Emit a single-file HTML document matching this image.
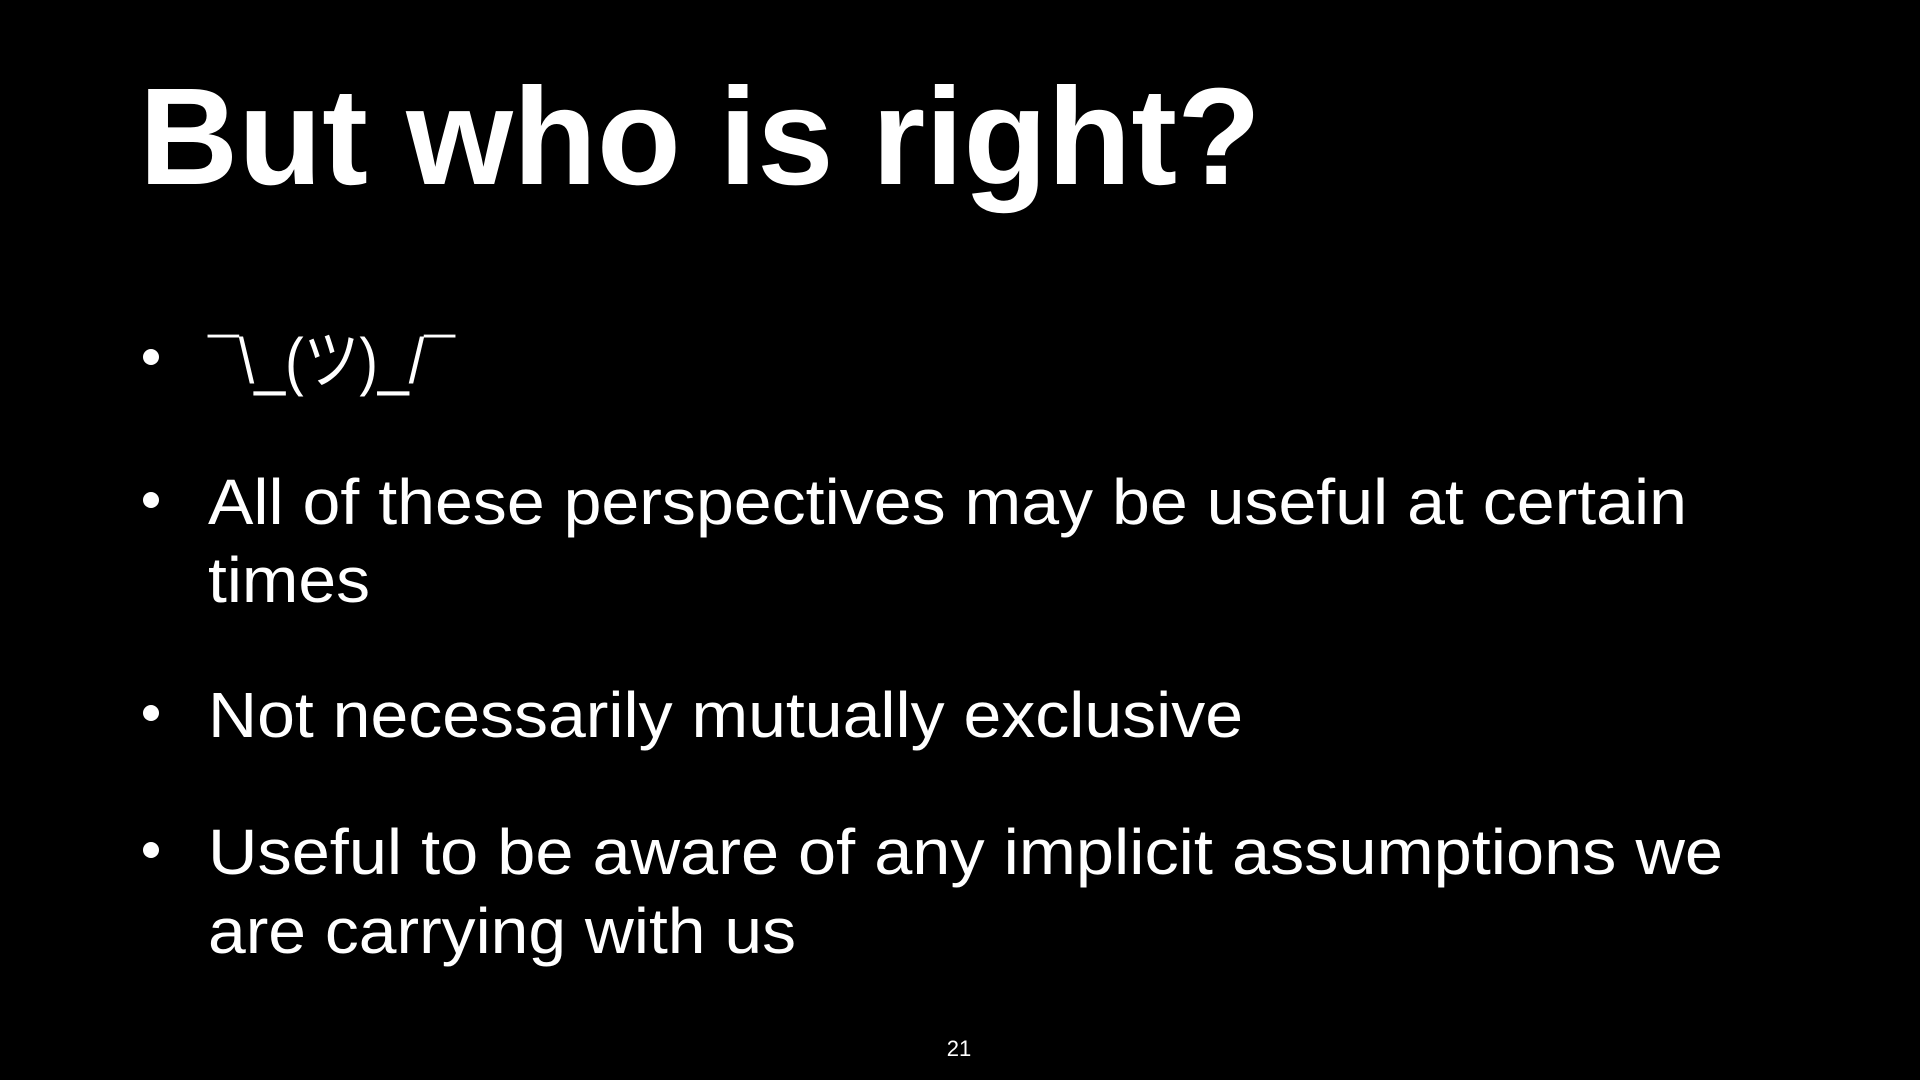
<!DOCTYPE html>
<html><head><meta charset="utf-8"><style>
html,body{margin:0;padding:0;background:#000;width:1920px;height:1080px;overflow:hidden}
svg{display:block}
text{fill:#fff;font-family:"Liberation Sans","Noto Sans CJK JP",sans-serif}
</style></head><body>
<svg width="1920" height="1080" viewBox="0 0 1920 1080">
<text x="139" y="184" font-size="138" font-weight="bold" textLength="1122" lengthAdjust="spacingAndGlyphs">But who is right?</text>
<g font-size="64">
<circle cx="151" cy="357" r="8" fill="#fff"/>
<text x="208" y="383" textLength="247" lengthAdjust="spacingAndGlyphs">¯\_(ツ)_/¯</text>
<circle cx="151" cy="500" r="8" fill="#fff"/>
<text x="208" y="524" textLength="1479" lengthAdjust="spacingAndGlyphs">All of these perspectives may be useful at certain</text>
<text x="208" y="602" textLength="162" lengthAdjust="spacingAndGlyphs">times</text>
<circle cx="151" cy="713" r="8" fill="#fff"/>
<text x="208" y="737" textLength="1035" lengthAdjust="spacingAndGlyphs">Not necessarily mutually exclusive</text>
<circle cx="151" cy="850" r="8" fill="#fff"/>
<text x="208" y="874" textLength="1515" lengthAdjust="spacingAndGlyphs">Useful to be aware of any implicit assumptions we</text>
<text x="208" y="953" textLength="588" lengthAdjust="spacingAndGlyphs">are carrying with us</text>
</g>
<text x="959" y="1056" font-size="22" text-anchor="middle">21</text>
</svg>
</body></html>
